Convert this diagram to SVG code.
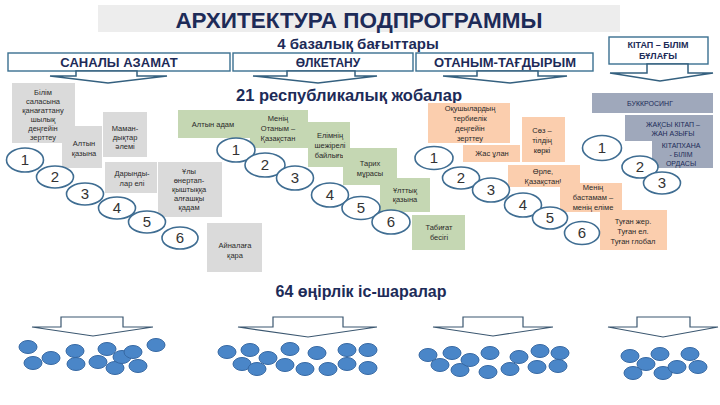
<svg xmlns="http://www.w3.org/2000/svg" width="720" height="405" viewBox="0 0 720 405">
<style>
text{font-family:"Liberation Sans",Arial,sans-serif}
.hd{fill:#1d2b58;font-weight:bold;text-anchor:middle}
.hbox{fill:#fff;stroke:#3a6f90;stroke-width:1.4}
.t{font-size:7.5px;fill:#2a2a2a;text-anchor:middle}
.tk{font-size:7px;fill:#1d2b58;text-anchor:middle}
.gr{fill:#dadada}
.gn{fill:#c5d7b3}
.pc{fill:#fbceae}
.sl{fill:#9fa8bb}
.el{fill:#fff;stroke:#3f6d92;stroke-width:1.6}
.num{font-size:15px;fill:#333;text-anchor:middle}
.arr{fill:#fff;stroke:#34607f;stroke-width:1.5;stroke-linejoin:miter}
.arr2{fill:#fff;stroke:#3b5770;stroke-width:1.2}
.dot{fill:#4a86c8;stroke:#3668a3;stroke-width:1}
</style>

<g id="title">
<rect x="98" y="5" width="522" height="27" fill="#ededed"/>
<text class="hd" x="359" y="28" font-size="22.5">АРХИТЕКТУРА ПОДПРОГРАММЫ</text>
<text class="hd" x="358" y="49" font-size="15">4 базалық бағыттары</text>
</g>

<g id="h-sanaly"><rect class="hbox" x="8" y="53" width="222" height="18"/><text class="hd" x="119" y="67" font-size="13">САНАЛЫ АЗАМАТ</text></g>
<g id="h-olketanu"><rect class="hbox" x="233" y="53" width="180" height="18"/><text class="hd" x="328" y="67" font-size="12">ӨЛКЕТАНУ</text></g>
<g id="h-otanym"><rect class="hbox" x="416" y="53" width="177" height="18"/><text class="hd" x="505" y="67" font-size="13">ОТАНЫМ-ТАҒДЫРЫМ</text></g>
<g id="h-kitap"><rect class="hbox" x="609" y="37" width="99" height="27"/><text class="hd" x="658" y="48" font-size="9">КІТАП – БІЛІМ</text><text class="hd" x="658" y="59" font-size="9">БҰЛАҒЫ</text></g>

<g id="connectors">
<path class="arr" d="M76,71 L137,71 L137,76 L167,76 L108,83 L50,76 L76,76 Z"/>
<path class="arr" d="M287,71 L355,71 L355,76 L377,76 L318,83 L253,76 L287,76 Z"/>
<path class="arr" d="M477,71 L538,71 L538,76 L567,76 L510,83 L443,76 L477,76 Z"/>
<path class="arr" d="M647,64 L688,64 L688,73 L713,73 L660,81 L610,73 L647,73 Z"/>
<path class="arr2" d="M61,317 L123,317 L123,327 L153,327 L93,336 L32,327 L61,327 Z"/>
<path class="arr2" d="M273,317 L343,317 L343,327 L377,327 L308,337 L238,327 L273,327 Z"/>
<path class="arr2" d="M463,317 L523,317 L523,327 L553,327 L493,336 L433,327 L463,327 Z"/>
<path class="arr2" d="M637,317 L690,317 L690,327 L718,327 L663,337 L608,327 L637,327 Z"/>
</g>

<g id="label-21"><text class="hd" x="349" y="101" font-size="16.5">21 республикалық жобалар</text></g>
<g id="label-64"><text class="hd" x="361" y="297" font-size="16">64 өңірлік іс-шаралар</text></g>

<!-- group 1 -->
<g id="s-bilim"><rect class="gr" x="12" y="83" width="63" height="60"/>
<text class="t" x="43" y="95">Білім</text><text class="t" x="43" y="104">саласына</text><text class="t" x="43" y="113">қанағаттану</text><text class="t" x="43" y="122">шылық</text><text class="t" x="43" y="131">деңгейін</text><text class="t" x="43" y="140">зерттеу</text></g>
<g id="s-altyn"><rect class="gr" x="62" y="126" width="40" height="42"/>
<text class="t" x="84" y="146">Алтын</text><text class="t" x="84" y="156">қазына</text></g>
<g id="s-maman"><rect class="gr" x="103" y="112" width="44" height="45"/>
<text class="t" x="125" y="131">Маман-</text><text class="t" x="125" y="140">дықтар</text><text class="t" x="125" y="149">әлемі</text></g>
<g id="s-daryn"><rect class="gr" x="105" y="162" width="52" height="31"/>
<text class="t" x="132" y="176">Дарынды-</text><text class="t" x="132" y="186">лар елі</text></g>
<g id="s-uly"><rect class="gr" x="158" y="162" width="64" height="55"/>
<text class="t" x="189" y="174">Ұлы</text><text class="t" x="189" y="183">өнертап-</text><text class="t" x="189" y="192">қыштыққа</text><text class="t" x="189" y="201">алғашқы</text><text class="t" x="189" y="210">қадам</text></g>
<g id="s-ainala"><rect class="gr" x="207" y="223" width="55" height="49"/>
<text class="t" x="235" y="248">Айналаға</text><text class="t" x="235" y="258">қара</text></g>

<!-- group 2 -->
<g id="o-altyn"><rect class="gn" x="178" y="110" width="72" height="28"/><text class="t" x="213" y="127">Алтын адам</text></g>
<g id="o-menin"><rect class="gn" x="250" y="110" width="58" height="38"/>
<text class="t" x="278" y="121">Менің</text><text class="t" x="278" y="131">Отаным –</text><text class="t" x="278" y="141">Қазақстан</text></g>
<g id="o-elim"><rect class="gn" x="308" y="122" width="42" height="45"/>
<text class="t" x="330" y="138">Елімнің</text><text class="t" x="330" y="148">шежірелі</text><text class="t" x="330" y="158">байлығы</text></g>
<g id="o-tarih"><rect class="gn" x="343" y="148" width="54" height="37"/>
<text class="t" x="370" y="166">Тарих</text><text class="t" x="370" y="176">мұрасы</text></g>
<g id="o-ulttyk"><rect class="gn" x="380" y="178" width="50" height="34"/>
<text class="t" x="405" y="193">Ұлттық</text><text class="t" x="405" y="202">қазына</text></g>
<g id="o-tabigat"><rect class="gn" x="412" y="215" width="53" height="35"/>
<text class="t" x="439" y="230">Табиғат</text><text class="t" x="439" y="240">бесігі</text></g>

<!-- group 3 -->
<g id="t-okush"><rect class="pc" x="428" y="103" width="82" height="40"/>
<text class="t" x="470" y="111">Оқушылардың</text><text class="t" x="470" y="121">тербиелік</text><text class="t" x="470" y="131">деңгейін</text><text class="t" x="470" y="141">зерттеу</text></g>
<g id="t-zhas"><rect class="pc" x="463" y="145" width="57" height="17"/><text class="t" x="492" y="156">Жас ұлан</text></g>
<g id="t-soz"><rect class="pc" x="522" y="117" width="43" height="45"/>
<text class="t" x="542" y="133">Сөз –</text><text class="t" x="542" y="143">тілдің</text><text class="t" x="542" y="153">көркі</text></g>
<g id="t-orle"><rect class="pc" x="508" y="165" width="72" height="22"/>
<text class="t" x="543" y="174">Өрле,</text><text class="t" x="543" y="184">Қазақстан!</text></g>
<g id="t-bastama"><rect class="pc" x="560" y="183" width="62" height="29"/>
<text class="t" x="593" y="190">Менің</text><text class="t" x="593" y="200">бастамам –</text><text class="t" x="593" y="210">менің еліме</text></g>
<g id="t-tugan"><rect class="pc" x="600" y="210" width="67" height="40"/>
<text class="t" x="633" y="224">Туған жер.</text><text class="t" x="633" y="234">Туған ел.</text><text class="t" x="633" y="244">Туған глобал</text></g>

<!-- group 4 -->
<g id="k-buk"><rect class="sl" x="592" y="93" width="121" height="20"/><text class="tk" x="650" y="106">БУККРОСИНГ</text></g>
<g id="k-zhaksy"><rect class="sl" x="625" y="115" width="88" height="26"/>
<text class="tk" x="673" y="127">ЖАҚСЫ КІТАП –</text><text class="tk" x="673" y="136">ЖАН АЗЫҒЫ</text></g>
<g id="k-kitaphana"><rect class="sl" x="652" y="140" width="61" height="28"/>
<text class="tk" x="681" y="148">КІТАПХАНА</text><text class="tk" x="681" y="157">- БІЛІМ</text><text class="tk" x="681" y="166">ОРДАСЫ</text></g>

<!-- numbered ellipses -->
<g id="n1">
<ellipse class="el" cx="25" cy="160" rx="18.5" ry="12"/><text class="num" x="25" y="165">1</text>
<ellipse class="el" cx="55" cy="177" rx="18.5" ry="11"/><text class="num" x="55" y="182">2</text>
<ellipse class="el" cx="85" cy="194" rx="18.5" ry="11"/><text class="num" x="85" y="199">3</text>
<ellipse class="el" cx="117" cy="208" rx="18.5" ry="11"/><text class="num" x="117" y="213">4</text>
<ellipse class="el" cx="147" cy="222" rx="18.5" ry="11"/><text class="num" x="147" y="227">5</text>
<ellipse class="el" cx="180" cy="238" rx="18" ry="11"/><text class="num" x="180" y="243">6</text>
</g>
<g id="n2">
<ellipse class="el" cx="236" cy="150" rx="19" ry="12"/><text class="num" x="236" y="155">1</text>
<ellipse class="el" cx="265" cy="165" rx="20" ry="12"/><text class="num" x="265" y="170">2</text>
<ellipse class="el" cx="295" cy="178" rx="18.5" ry="12"/><text class="num" x="295" y="183">3</text>
<ellipse class="el" cx="330" cy="195" rx="18.5" ry="12"/><text class="num" x="330" y="200">4</text>
<ellipse class="el" cx="361" cy="208" rx="19" ry="11.5"/><text class="num" x="361" y="213">5</text>
<ellipse class="el" cx="391" cy="222" rx="19" ry="12"/><text class="num" x="391" y="227">6</text>
</g>
<g id="n3">
<ellipse class="el" cx="434" cy="158" rx="19" ry="11.5"/><text class="num" x="434" y="163">1</text>
<ellipse class="el" cx="461" cy="178" rx="18.5" ry="11"/><text class="num" x="461" y="183">2</text>
<ellipse class="el" cx="491" cy="190" rx="18.5" ry="12"/><text class="num" x="491" y="195">3</text>
<ellipse class="el" cx="523" cy="205" rx="18.5" ry="12"/><text class="num" x="523" y="210">4</text>
<ellipse class="el" cx="550" cy="218" rx="17.5" ry="11"/><text class="num" x="550" y="223">5</text>
<ellipse class="el" cx="582" cy="233" rx="17.5" ry="11.5"/><text class="num" x="582" y="238">6</text>
</g>
<g id="n4">
<ellipse class="el" cx="602" cy="148" rx="19.5" ry="12.5"/><text class="num" x="602" y="153">1</text>
<ellipse class="el" cx="640" cy="167" rx="18" ry="11"/><text class="num" x="640" y="172">2</text>
<ellipse class="el" cx="662" cy="183" rx="18.5" ry="11"/><text class="num" x="662" y="188">3</text>
</g>

<!-- event clusters -->
<g id="cluster-1">
<ellipse class="dot" cx="28" cy="347" rx="9" ry="6.5"/><ellipse class="dot" cx="33" cy="363" rx="9" ry="6.5"/><ellipse class="dot" cx="51" cy="358" rx="9" ry="6.5"/>
<ellipse class="dot" cx="75" cy="351" rx="9" ry="6.5"/><ellipse class="dot" cx="76" cy="364" rx="9" ry="6.5"/><ellipse class="dot" cx="98" cy="362" rx="9" ry="6.5"/>
<ellipse class="dot" cx="107" cy="349" rx="9" ry="6.5"/><ellipse class="dot" cx="115" cy="368" rx="9" ry="6.5"/><ellipse class="dot" cx="122" cy="357" rx="9" ry="6.5"/>
<ellipse class="dot" cx="133" cy="352" rx="9" ry="6.5"/><ellipse class="dot" cx="138" cy="366" rx="9" ry="6.5"/><ellipse class="dot" cx="156" cy="345" rx="9" ry="6.5"/>
</g>
<g id="cluster-2">
<ellipse class="dot" cx="227" cy="352" rx="9" ry="6.5"/><ellipse class="dot" cx="242" cy="364" rx="9" ry="6.5"/><ellipse class="dot" cx="250" cy="350" rx="9" ry="6.5"/>
<ellipse class="dot" cx="257" cy="369" rx="9" ry="6.5"/><ellipse class="dot" cx="268" cy="358" rx="9" ry="6.5"/><ellipse class="dot" cx="285" cy="365" rx="9" ry="6.5"/>
<ellipse class="dot" cx="290" cy="349" rx="9" ry="6.5"/><ellipse class="dot" cx="305" cy="369" rx="9" ry="6.5"/><ellipse class="dot" cx="317" cy="353" rx="9" ry="6.5"/>
<ellipse class="dot" cx="328" cy="369" rx="9" ry="6.5"/><ellipse class="dot" cx="347" cy="350" rx="9" ry="6.5"/><ellipse class="dot" cx="347" cy="364" rx="9" ry="6.5"/>
<ellipse class="dot" cx="368" cy="350" rx="9" ry="6.5"/><ellipse class="dot" cx="368" cy="368" rx="9" ry="6.5"/>
</g>
<g id="cluster-3">
<ellipse class="dot" cx="428" cy="355" rx="9" ry="6.5"/><ellipse class="dot" cx="440" cy="365" rx="9" ry="6.5"/><ellipse class="dot" cx="452" cy="353" rx="9" ry="6.5"/>
<ellipse class="dot" cx="460" cy="370" rx="9" ry="6.5"/><ellipse class="dot" cx="470" cy="360" rx="9" ry="6.5"/><ellipse class="dot" cx="490" cy="353" rx="9" ry="6.5"/>
<ellipse class="dot" cx="488" cy="372" rx="9" ry="6.5"/><ellipse class="dot" cx="510" cy="369" rx="9" ry="6.5"/><ellipse class="dot" cx="519" cy="357" rx="9" ry="6.5"/>
<ellipse class="dot" cx="540" cy="351" rx="9" ry="6.5"/><ellipse class="dot" cx="537" cy="367" rx="9" ry="6.5"/><ellipse class="dot" cx="560" cy="353" rx="9" ry="6.5"/>
<ellipse class="dot" cx="558" cy="366" rx="9" ry="6.5"/>
</g>
<g id="cluster-4">
<ellipse class="dot" cx="630" cy="356" rx="9" ry="6.5"/><ellipse class="dot" cx="633" cy="373" rx="9" ry="6.5"/><ellipse class="dot" cx="646" cy="364" rx="9" ry="6.5"/>
<ellipse class="dot" cx="660" cy="354" rx="9" ry="6.5"/><ellipse class="dot" cx="663" cy="373" rx="9" ry="6.5"/><ellipse class="dot" cx="677" cy="367" rx="9" ry="6.5"/>
<ellipse class="dot" cx="690" cy="354" rx="9" ry="6.5"/><ellipse class="dot" cx="698" cy="367" rx="9" ry="6.5"/>
</g>
</svg>
